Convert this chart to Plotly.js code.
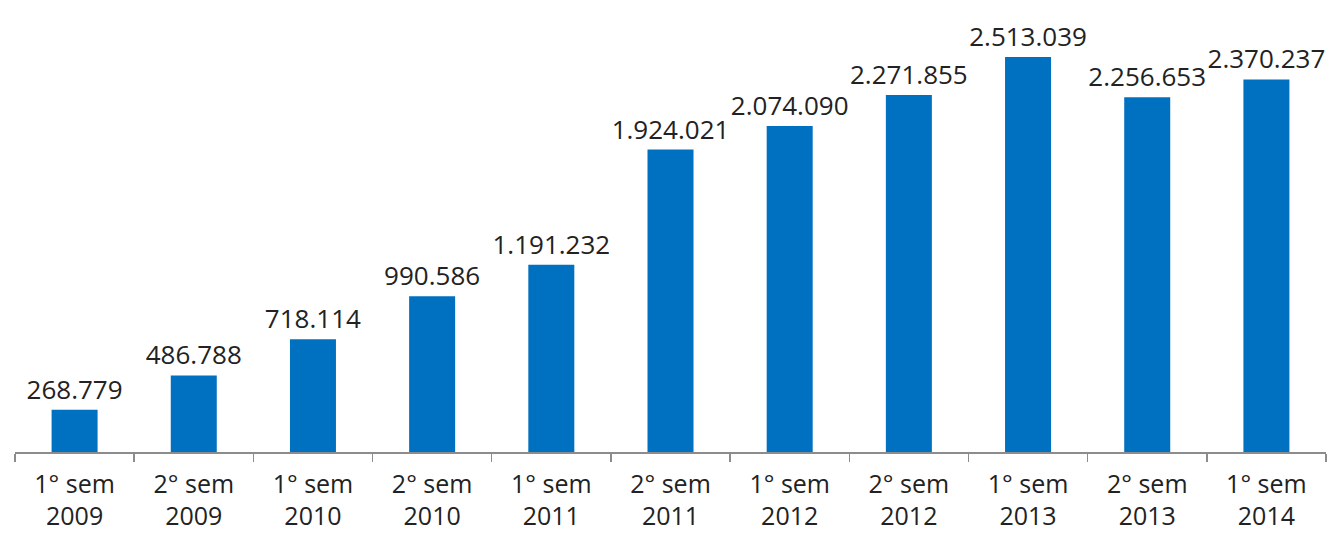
<!DOCTYPE html>
<html>
<head>
<meta charset="utf-8">
<script src="https://cdn.plot.ly/plotly-3.0.1.min.js"></script>
<style>html,body{margin:0;padding:0;background:#fff;}#chart{width:1335px;height:535px;}</style>
</head>
<body>
<div id="chart"></div>
<script>
const semesters = ["1° sem", "2° sem", "1° sem", "2° sem", "1° sem", "2° sem", "1° sem", "2° sem", "1° sem", "2° sem", "1° sem"];
const years = ["2009", "2009", "2010", "2010", "2011", "2011", "2012", "2012", "2013", "2013", "2014"];
const values = [268779, 486788, 718114, 990586, 1191232, 1924021, 2074090, 2271855, 2513039, 2256653, 2370237];

const categories = semesters.map((s, i) => s + "<br>" + years[i]);
const labels = values.map(v => v.toString().replace(/\B(?=(\d{3})+(?!\d))/g, "."));

const trace = {
  type: "bar",
  x: categories,
  y: values,
  text: labels,
  textposition: "outside",
  constraintext: "none",
  cliponaxis: false,
  textfont: {family: "Open Sans, sans-serif", size: 26, color: "#222222"},
  marker: {color: "#0070C0"},
  hoverinfo: "skip"
};

const layout = {
  width: 1335,
  height: 535,
  margin: {l: 15, r: 9, t: 0, b: 83},
  paper_bgcolor: "#ffffff",
  plot_bgcolor: "#ffffff",
  showlegend: false,
  bargap: 0.614,
  font: {family: "Open Sans, sans-serif", size: 26, color: "#222222"},
  xaxis: {
    type: "category",
    showline: true,
    linecolor: "#8c8c8c",
    linewidth: 1.5,
    ticks: "outside",
    tickson: "boundaries",
    ticklen: 8,
    tickwidth: 1.5,
    tickcolor: "#8c8c8c",
    showgrid: false,
    zeroline: false,
    ticklabelstandoff: 9,
    tickfont: {family: "Open Sans, sans-serif", size: 25, color: "#222222"},
    tickangle: 0
  },
  yaxis: {
    range: [0, 2875700],
    visible: false,
    showgrid: false,
    zeroline: false
  }
};

Plotly.newPlot("chart", [trace], layout, {displayModeBar: false, staticPlot: true});
</script>
</body>
</html>
